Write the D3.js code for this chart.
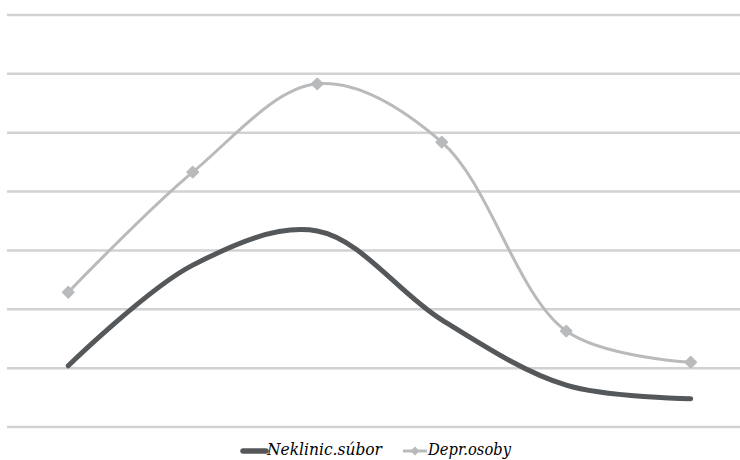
<!DOCTYPE html>
<html>
<head>
<meta charset="utf-8">
<script src="https://cdn.jsdelivr.net/npm/d3@7"></script>
<style>
  body { margin: 0; background: #fff; }
  svg { display: block; }
</style>
</head>
<body>
<div id="chart"></div>
<script>
// Data (gridline units, 0 = bottom line)
const categories = ["1", "2", "3", "4", "5", "6"];
const neklinicValues = [1.04, 2.75, 3.33, 1.82, 0.71, 0.48];
const deprValues = [2.29, 4.33, 5.83, 4.84, 1.63, 1.10];
const gridTicks = [0, 1, 2, 3, 4, 5, 6, 7];
const seriesNames = ["Neklinic.súbor", "Depr.osoby"];

const width = 740, height = 460;
const margin = { top: 15, right: -13, bottom: 33, left: 6 };

const svg = d3.select("#chart")
  .append("svg")
  .attr("width", width)
  .attr("height", height);

const x = d3.scalePoint()
  .domain(categories)
  .range([margin.left, width - margin.right])
  .padding(0.5);

const y = d3.scaleLinear()
  .domain([0, 7])
  .range([height - margin.bottom, margin.top]);

// Horizontal gridlines
svg.append("g")
  .selectAll("line")
  .data(gridTicks)
  .join("line")
  .attr("x1", 7)
  .attr("x2", width)
  .attr("y1", d => y(d))
  .attr("y2", d => y(d))
  .attr("stroke", "#d2d2d2")
  .attr("stroke-width", 2.5);

const line = d3.line()
  .x((d, i) => x(categories[i]))
  .y(d => y(d))
  .curve(d3.curveCatmullRom.alpha(0.5));

// Dark series
svg.append("path")
  .datum(neklinicValues)
  .attr("fill", "none")
  .attr("stroke", "#55585b")
  .attr("stroke-width", 5)
  .attr("stroke-linecap", "round")
  .attr("d", line);

// Light series with diamond markers
svg.append("path")
  .datum(deprValues)
  .attr("fill", "none")
  .attr("stroke", "#b8babc")
  .attr("stroke-width", 3)
  .attr("d", line);

svg.append("g")
  .selectAll("path")
  .data(deprValues)
  .join("path")
  .attr("transform", (d, i) => `translate(${x(categories[i])},${y(d)}) rotate(45)`)
  .attr("d", d3.symbol().type(d3.symbolSquare).size(64))
  .attr("fill", "#b8babc")
  .attr("stroke", "#b8babc")
  .attr("stroke-width", 1.5)
  .attr("stroke-linejoin", "round");

// Legend
const legend = svg.append("g")
  .attr("font-family", "Georgia, 'DejaVu Serif', serif")
  .attr("font-style", "italic")
  .attr("font-size", 16);

const ly = 451;
legend.append("line")
  .attr("x1", 243).attr("x2", 266)
  .attr("y1", ly).attr("y2", ly)
  .attr("stroke", "#55585b")
  .attr("stroke-width", 5.5)
  .attr("stroke-linecap", "round");
legend.append("text")
  .attr("x", 267).attr("y", 455)
  .attr("fill", "#000")
  .attr("textLength", 115)
  .attr("lengthAdjust", "spacingAndGlyphs")
  .text(seriesNames[0]);

legend.append("line")
  .attr("x1", 403).attr("x2", 427)
  .attr("y1", ly).attr("y2", ly)
  .attr("stroke", "#b8babc")
  .attr("stroke-width", 3);
legend.append("path")
  .attr("transform", `translate(415,${ly}) rotate(45)`)
  .attr("d", d3.symbol().type(d3.symbolSquare).size(40))
  .attr("fill", "#b8babc");
legend.append("text")
  .attr("x", 428).attr("y", 455)
  .attr("fill", "#000")
  .attr("textLength", 83)
  .attr("lengthAdjust", "spacingAndGlyphs")
  .text(seriesNames[1]);
</script>
</body>
</html>
